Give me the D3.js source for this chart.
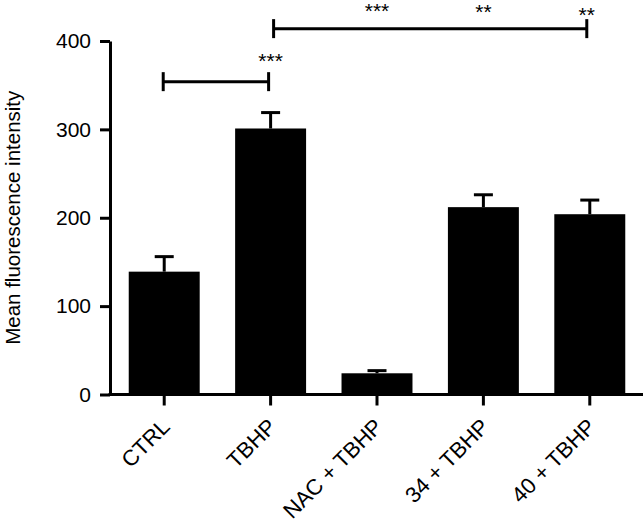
<!DOCTYPE html>
<html>
<head>
<meta charset="utf-8">
<script src="https://cdn.jsdelivr.net/npm/d3@7"></script>
<style>
  body { margin: 0; background: #fff; }
  text { font-family: "Liberation Sans", Arial, sans-serif; fill: #000; }
</style>
</head>
<body>
<svg id="chart" width="643" height="525"></svg>
<script>
// data
const groups = ["CTRL", "TBHP", "NAC + TBHP", "34 + TBHP", "40 + TBHP"];
const means = [139, 301, 24, 212, 204];
const sems = [17, 18, 3, 14, 16];
const yTicks = [0, 100, 200, 300, 400];

// significance brackets (from group, to group, height in data units)
const brackets = [
  { from: "CTRL", to: "TBHP", at: 354, dx0: -1, dx1: -2 },
  { from: "TBHP", to: "40 + TBHP", at: 414, dx0: 3, dx1: -3 }
];
// star labels sitting over the groups
const stars = [
  { group: "TBHP", text: "***", at: 370, dx: 0 },
  { group: "NAC + TBHP", text: "***", at: 426, dx: 0 },
  { group: "34 + TBHP", text: "**", at: 425, dx: 0 },
  { group: "40 + TBHP", text: "**", at: 421, dx: -3 }
];

const svg = d3.select("#chart");

const x = d3.scaleBand()
  .domain(groups)
  .range([111, 643])
  .paddingInner(0.333)
  .paddingOuter(0.1667);

const y = d3.scaleLinear()
  .domain([0, 400])
  .range([394.5, 41]);

const axisX = 110;

// bars
svg.append("g").selectAll("rect")
  .data(groups)
  .join("rect")
  .attr("x", d => x(d))
  .attr("width", x.bandwidth())
  .attr("y", (d, i) => y(means[i]))
  .attr("height", (d, i) => y(0) - y(means[i]))
  .attr("fill", "#000");

// error bars, upper half only
const err = svg.append("g").attr("stroke", "#000").attr("stroke-width", 3);
groups.forEach((g, i) => {
  const cx = x(g) + x.bandwidth() / 2;
  err.append("line")
    .attr("x1", cx).attr("x2", cx)
    .attr("y1", y(means[i])).attr("y2", y(means[i] + sems[i]));
  err.append("line")
    .attr("x1", cx - 9.5).attr("x2", cx + 9.5)
    .attr("y1", y(means[i] + sems[i])).attr("y2", y(means[i] + sems[i]));
});

// y axis
const yAxis = svg.append("g")
  .attr("transform", `translate(${axisX},0)`)
  .call(d3.axisLeft(y).tickValues(yTicks).tickSize(10).tickSizeOuter(0).tickPadding(9));
yAxis.select(".domain").attr("stroke-width", 3);
yAxis.selectAll(".tick line").attr("stroke-width", 3);
yAxis.selectAll(".tick text")
  .attr("font-size", 21)
  .attr("font-family", "Liberation Sans, Arial, sans-serif");

// x axis line + ticks
const xAxis = svg.append("g")
  .attr("transform", `translate(0,${y(0)})`)
  .call(d3.axisBottom(x).tickSize(11).tickSizeOuter(0).tickFormat(""));
xAxis.select(".domain")
  .attr("d", `M${axisX - 1.5},0H643`)
  .attr("stroke-width", 3);
xAxis.selectAll(".tick line").attr("stroke-width", 3);

// rotated category labels
svg.append("g").selectAll("text")
  .data(groups)
  .join("text")
  .attr("transform", d => `translate(${x(d) + x.bandwidth() / 2 + 7},428) rotate(-45)`)
  .attr("text-anchor", "end")
  .attr("font-size", 22)
  .text(d => d);

// y axis title
svg.append("text")
  .attr("transform", `translate(20,${(y(0) + y(400)) / 2}) rotate(-90)`)
  .attr("text-anchor", "middle")
  .attr("font-size", 20.5)
  .text("Mean fluorescence intensity");

// brackets
const br = svg.append("g").attr("stroke", "#000").attr("stroke-width", 3).attr("fill", "none");
brackets.forEach(b => {
  const x0 = x(b.from) + x.bandwidth() / 2 + b.dx0;
  const x1 = x(b.to) + x.bandwidth() / 2 + b.dx1;
  const yy = y(b.at);
  br.append("line").attr("x1", x0).attr("x2", x1).attr("y1", yy).attr("y2", yy);
  br.append("line").attr("x1", x0).attr("x2", x0).attr("y1", yy - 9.5).attr("y2", yy + 9.5);
  br.append("line").attr("x1", x1).attr("x2", x1).attr("y1", yy - 9.5).attr("y2", yy + 9.5);
});

svg.append("g").selectAll("text")
  .data(stars)
  .join("text")
  .attr("x", d => x(d.group) + x.bandwidth() / 2 + d.dx)
  .attr("y", d => y(d.at))
  .attr("text-anchor", "middle")
  .attr("font-size", 21)
  .text(d => d.text);
</script>
</body>
</html>
